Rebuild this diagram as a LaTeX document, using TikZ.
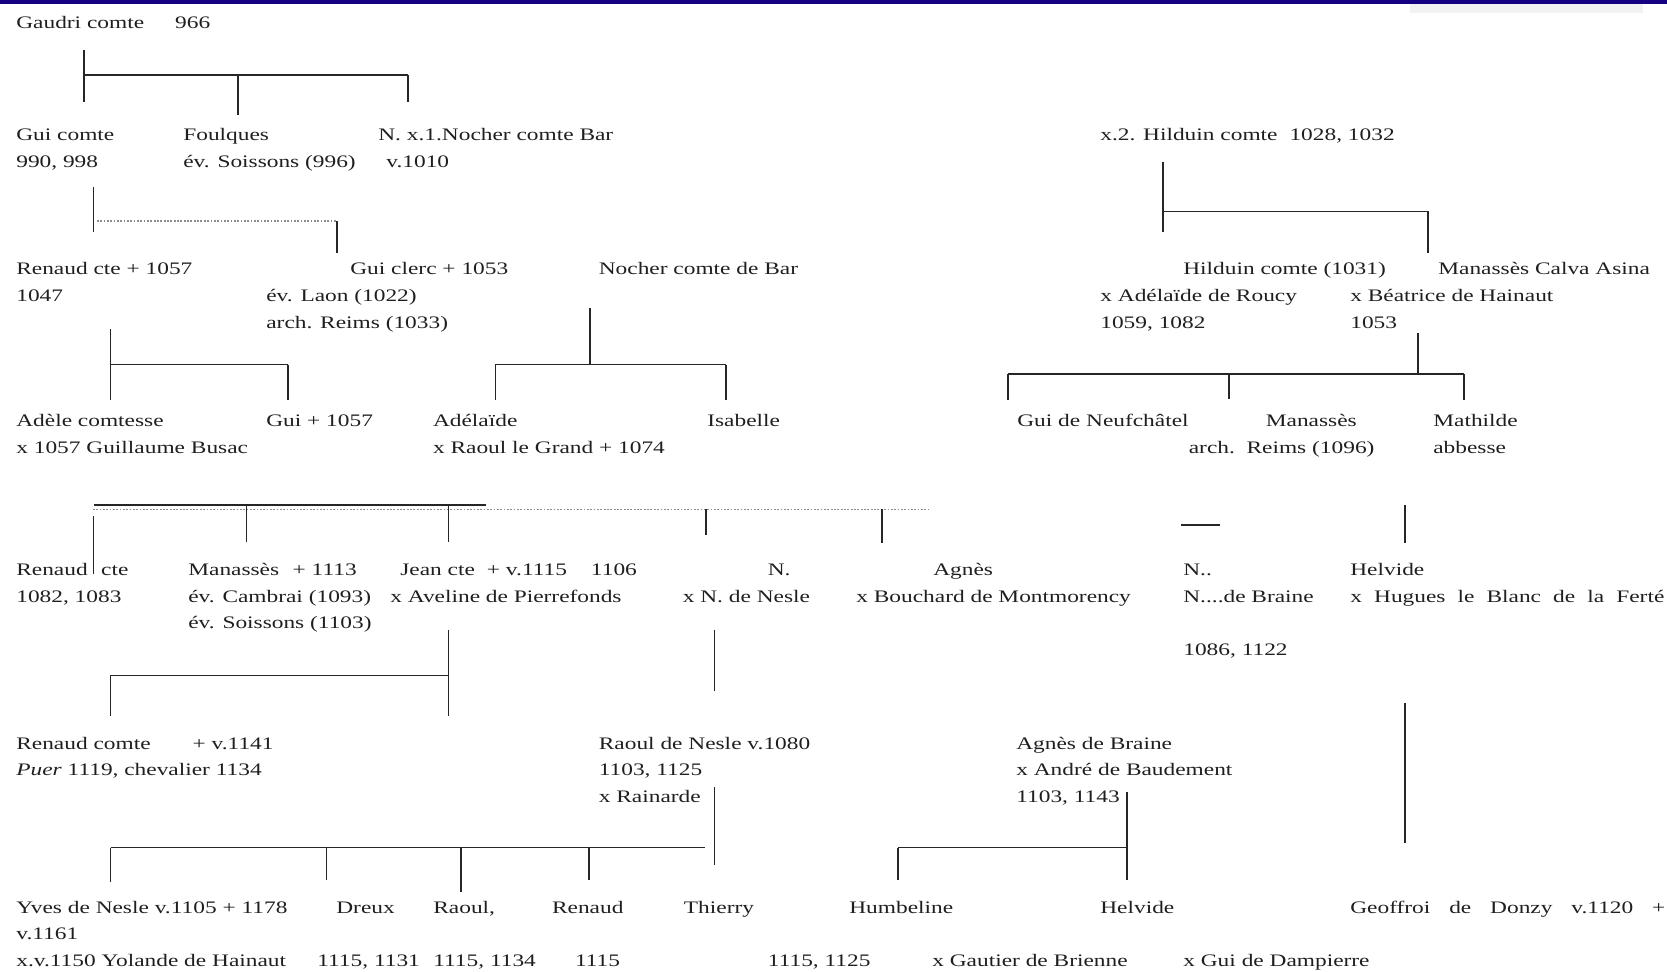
\documentclass[tikz,border=0pt]{standalone}
\usepackage{fontspec}
\setmainfont{Liberation Serif}[FakeStretch=1.33]
\newlength\pxl
\setlength\pxl{0.02cm}
\definecolor{slidebar}{RGB}{22,0,130}
% lines of one entry, hung from the baseline of the first
\newcommand{\rows}[1]{\begin{tabular}[t]{@{}l@{}}#1\end{tabular}}

\begin{document}
\begin{tikzpicture}[x=0.02cm, y=-0.02cm,
  person/.style={anchor=base west, inner sep=0pt, text=black!88,
    font=\fontsize{10}{15.1}\selectfont},
  tie/.style={draw, black!85, line width=0.75pt},
  bar/.style={tie, line width=1pt},
  dots/.style={draw, black!45, line width=0.8pt, dash pattern=on 1pt off 0.9pt}]
\useasboundingbox (0,0) rectangle (1667,972);
\fill[slidebar] (0,0) rectangle (1667,4);
\fill[black!5] (1410,4) rectangle (1643,13);

% generation 1
\node[person] (gaudri) at (16,29) {Gaudri comte\hspace{31\pxl}966};

% generation 2
\node[person] (guicomte) at (16,140.5) {\rows{Gui comte\\990, 998}};
\node[person] (foulques) at (183,140.5) {\rows{Foulques\\év. Soissons (996)}};
\node[person] (nbar) at (378,140.5) {\rows{N. x.1.Nocher comte Bar\\\hspace*{8\pxl}v.1010}};
\node[person] (hilduin) at (1100,140.5) {x.2. Hilduin comte\hspace{12\pxl}1028, 1032};

% generation 3
\node[person] (renaud) at (16,275) {\rows{Renaud cte + 1057\\1047}};
\node[person] (guiclerc) at (266,275) {\rows{\hspace*{84\pxl}Gui clerc + 1053\\év. Laon (1022)\\arch. Reims (1033)}};
\node[person] (nocher) at (598.5,275) {Nocher comte de Bar};
\node[person] (hilduinb) at (1100,275) {\rows{\hspace*{83\pxl}Hilduin comte (1031)\\x Adélaïde de Roucy\\1059, 1082}};
\node[person] (manasses) at (1350,275) {\rows{\hspace*{88\pxl}Manassès Calva Asina\\x Béatrice de Hainaut\\1053}};

% generation 4
\node[person] (adele) at (16,427) {\rows{Adèle comtesse\\x 1057 Guillaume Busac}};
\node[person] (guib) at (266,427) {Gui + 1057};
\node[person] (adelaide) at (432.7,427) {\rows{Adélaïde\\x Raoul le Grand + 1074}};
\node[person] (isabelle) at (707,427) {Isabelle};
\node[person] (guineuf) at (1017,427) {Gui de Neufchâtel};
\node[person] (manassesb) at (1188.5,427) {\rows{\hspace*{77\pxl}Manassès\\arch.\ \ Reims (1096)}};
\node[person] (mathilde) at (1433,427) {\rows{Mathilde\\abbesse}};

% generation 5
\node[person] (renaudb) at (16,575.5) {\rows{Renaud\hspace{13.5\pxl}cte\\1082, 1083}};
\node[person] (manassesc) at (188,575.5) {\rows{Manassès\hspace{13.5\pxl}+ 1113\\év. Cambrai (1093)\\év. Soissons (1103)}};
\node[person] (jean) at (390,575.5) {\rows{\hspace*{10\pxl}Jean cte\hspace{12\pxl}+ v.1115\hspace{24\pxl}1106\\x Aveline de Pierrefonds}};
\node[person] (nn) at (682.5,575.5) {\rows{\hspace*{85\pxl}N.\\x N. de Nesle}};
\node[person] (agnes) at (856,575.5) {\rows{\hspace*{77\pxl}Agnès\\x Bouchard de Montmorency}};
\node[person] (nbraine) at (1183,575.5) {\rows{N..\\N....de Braine\\\mbox{}\\1086, 1122}};
\node[person] (helvide) at (1350,575.5) {\rows{Helvide\\\makebox[314\pxl][s]{x Hugues le Blanc de la Ferté}}};

% generation 6
\node[person] (renaudc) at (16,749) {\rows{Renaud comte\hspace{42\pxl}+ v.1141\\\textit{Puer} 1119, chevalier 1134}};
\node[person] (raoul) at (598.5,749) {\rows{Raoul de Nesle v.1080\\1103, 1125\\x Rainarde}};
\node[person] (agnesb) at (1016,749) {\rows{Agnès de Braine\\x André de Baudement\\1103, 1143}};

% generation 7
\node[person] (yves) at (16,913) {\rows{Yves de Nesle v.1105 + 1178\\v.1161\\x.v.1150 Yolande de Hainaut}};
\node[person] (dreux) at (317,913) {\rows{\hspace*{19\pxl}Dreux\\\mbox{}\\1115, 1131}};
\node[person] (raoulb) at (433,913) {\rows{Raoul,\\\mbox{}\\1115, 1134}};
\node[person] (renaudd) at (551.7,913) {\rows{Renaud\\\mbox{}\\\hspace*{23\pxl}1115}};
\node[person] (thierry) at (683.6,913) {\rows{Thierry\\\mbox{}\\\hspace*{84\pxl}1115, 1125}};
\node[person] (humbeline) at (849,913) {\rows{Humbeline\\\mbox{}\\\hspace*{83\pxl}x Gautier de Brienne}};
\node[person] (helvideb) at (1100,913) {\rows{Helvide\\\mbox{}\\\hspace*{83\pxl}x Gui de Dampierre}};
\node[person] (geoffroi) at (1350,913) {\makebox[315\pxl][s]{Geoffroi de Donzy v.1120 +}};

% Gaudri
\coordinate (gaudri-t) at (84,50); \coordinate (gaudri-b) at (84,102);
\coordinate (gaudri-l) at (84,75); \coordinate (gaudri-r) at (408,75);
\coordinate (gaudri-n) at (408,102);
\coordinate (gaudri-f) at (238,75); \coordinate (foulques-t) at (238,115);
\path[tie] (gaudri-t) -- (gaudri-b);
\path[bar] (gaudri-l) -- (gaudri-r);
\path[tie] (gaudri-r) -- (gaudri-n);
\path[tie] (gaudri-f) -- (foulques-t);

% Gui comte
\coordinate (guicomte-t) at (93.5,187); \coordinate (guicomte-b) at (93.5,232);
\coordinate (guicomte-l) at (97,221); \coordinate (guicomte-r) at (337,221);
\coordinate (guiclerc-t) at (337,253);
\path[tie] (guicomte-t) -- (guicomte-b);
\path[dots] (guicomte-l) -- (guicomte-r);
\path[tie] (guicomte-r) -- (guiclerc-t);

% Hilduin
\coordinate (hilduin-t) at (1163,162); \coordinate (hilduin-b) at (1163,232);
\coordinate (hilduin-l) at (1163,211.5); \coordinate (hilduin-r) at (1428,211.5);
\coordinate (manasses-t) at (1428,253);
\path[tie] (hilduin-t) -- (hilduin-b);
\path[bar] (hilduin-l) -- (hilduin-r);
\path[tie] (hilduin-r) -- (manasses-t);

% Renaud
\coordinate (renaud-t) at (110.6,329.5); \coordinate (renaud-b) at (110.6,400);
\coordinate (renaud-l) at (110.6,364.6); \coordinate (renaud-r) at (288,364.6);
\coordinate (guib-t) at (288,400);
\path[tie] (renaud-t) -- (renaud-b);
\path[bar] (renaud-l) -- (renaud-r);
\path[tie] (renaud-r) -- (guib-t);

% Nocher
\coordinate (nocher-t) at (590,308); \coordinate (nocher-b) at (590,364.6);
\coordinate (nocher-l) at (495.4,364.6); \coordinate (nocher-r) at (726,364.6);
\coordinate (adelaide-t) at (495.4,400); \coordinate (isabelle-t) at (726,400);
\path[tie] (nocher-t) -- (nocher-b);
\path[bar] (nocher-l) -- (nocher-r);
\path[tie] (nocher-l) -- (adelaide-t);
\path[tie] (nocher-r) -- (isabelle-t);

% Manasses Calva Asina
\coordinate (manasses-b) at (1418,333); \coordinate (manasses-j) at (1418,374);
\coordinate (manasses-l) at (1008,374); \coordinate (manasses-r) at (1464,374);
\coordinate (manasses-m) at (1229,374);
\coordinate (guineuf-t) at (1008,400); \coordinate (manassesb-t) at (1229,399);
\coordinate (mathilde-t) at (1464,400);
\path[tie] (manasses-b) -- (manasses-j);
\path[bar] (manasses-l) -- (manasses-r);
\path[tie] (manasses-l) -- (guineuf-t);
\path[tie] (manasses-m) -- (manassesb-t);
\path[tie] (manasses-r) -- (mathilde-t);

% Renaud's and Adelaide's children
\coordinate (kin-l) at (93.5,505); \coordinate (kin-r) at (486,505);
\coordinate (kin-dl) at (93,509.5); \coordinate (kin-dr) at (930,509.5);
\coordinate (renaudb-a) at (93.5,516); \coordinate (renaudb-b) at (93.5,574);
\coordinate (manassesc-a) at (246.7,505); \coordinate (manassesc-b) at (246.7,542);
\coordinate (jean-a) at (448.6,505); \coordinate (jean-b) at (448.6,542);
\coordinate (nn-a) at (706,509.5); \coordinate (nn-b) at (706,535);
\coordinate (agnes-a) at (882,509.5); \coordinate (agnes-b) at (882,543);
\path[bar] (kin-l) -- (kin-r);
\path[dots] (kin-dl) -- (kin-dr);
\path[tie] (renaudb-a) -- (renaudb-b);
\path[tie] (manassesc-a) -- (manassesc-b);
\path[tie] (jean-a) -- (jean-b);
\path[tie] (nn-a) -- (nn-b);
\path[tie] (agnes-a) -- (agnes-b);

\coordinate (nbraine-l) at (1181,525); \coordinate (nbraine-r) at (1220,525);
\path[tie] (nbraine-l) -- (nbraine-r);
\coordinate (helvide-a) at (1405,505); \coordinate (helvide-b) at (1405,543);
\path[tie] (helvide-a) -- (helvide-b);

% Jean
\coordinate (jean-t) at (448.6,630); \coordinate (jean-d) at (448.6,716);
\coordinate (jean-j) at (448.6,675.5); \coordinate (jean-l) at (110.6,675.5);
\coordinate (renaudc-t) at (110.6,716);
\path[tie] (jean-t) -- (jean-d);
\path[bar] (jean-j) -- (jean-l);
\path[tie] (jean-l) -- (renaudc-t);

% N. de Nesle
\coordinate (nn-t) at (714.4,630); \coordinate (raoul-t) at (714.4,691);
\path[tie] (nn-t) -- (raoul-t);

% Helvide
\coordinate (helvide-t) at (1405,703); \coordinate (geoffroi-t) at (1405,843);
\path[tie] (helvide-t) -- (geoffroi-t);

% Raoul de Nesle
\coordinate (raoul-a) at (714.4,787); \coordinate (raoul-b) at (714.4,865);
\coordinate (raoul-l) at (110.6,847.5); \coordinate (raoul-r) at (705,847.5);
\coordinate (yves-t) at (110.6,882);
\coordinate (dreux-a) at (326.4,847.5); \coordinate (dreux-t) at (326.4,880);
\coordinate (raoulb-a) at (461,847.5); \coordinate (raoulb-t) at (461,892);
\coordinate (renaudd-a) at (589,847.5); \coordinate (renaudd-t) at (589,880);
\path[tie] (raoul-a) -- (raoul-b);
\path[bar] (raoul-l) -- (raoul-r);
\path[tie] (raoul-l) -- (yves-t);
\path[tie] (dreux-a) -- (dreux-t);
\path[tie] (raoulb-a) -- (raoulb-t);
\path[tie] (renaudd-a) -- (renaudd-t);

% Agnes de Braine
\coordinate (agnesb-a) at (1127,792); \coordinate (agnesb-b) at (1127,880);
\coordinate (agnesb-j) at (1127,847.5); \coordinate (agnesb-l) at (898,847.5);
\coordinate (humbeline-t) at (898,880);
\path[tie] (agnesb-a) -- (agnesb-b);
\path[bar] (agnesb-j) -- (agnesb-l);
\path[tie] (agnesb-l) -- (humbeline-t);
\end{tikzpicture}
\end{document}
